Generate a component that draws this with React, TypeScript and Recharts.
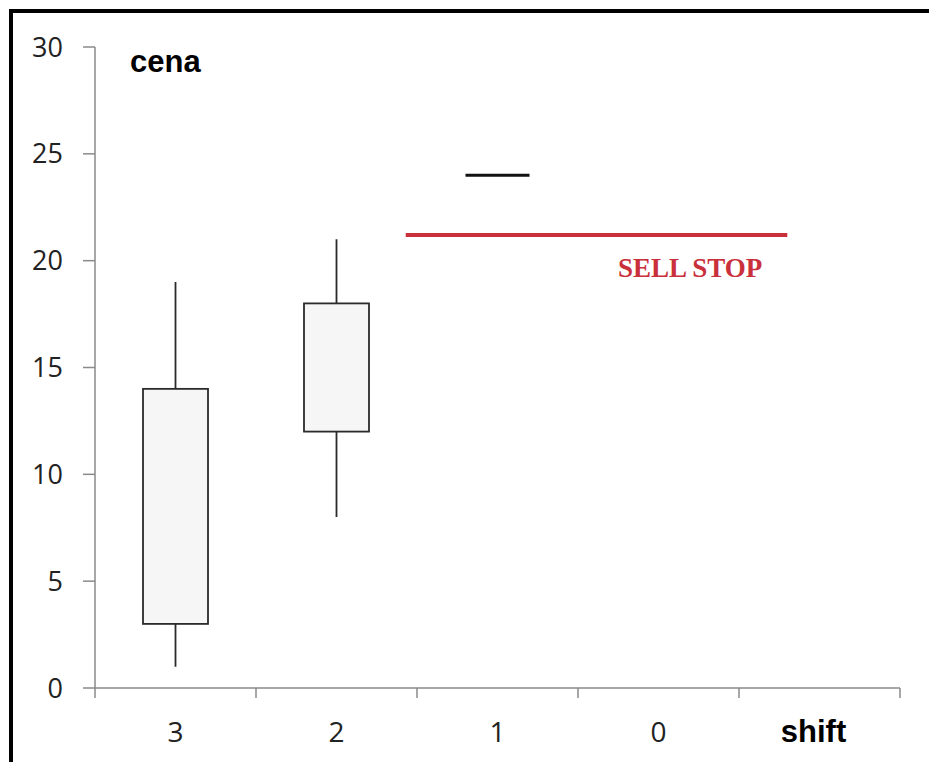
import React from "react";
import {
  Bar,
  ComposedChart,
  Line,
  ReferenceLine,
  XAxis,
  YAxis,
} from "recharts";

// bars counted back from the current one
const shifts = ["3", "2", "1", "0", "shift"];
const slotCenters = [0.5, 1.5, 2.5, 3.5, 4.5];
const opens = [3, 12, null, null, null];
const closes = [14, 18, null, null, null];
const lows = [1, 8, null, null, null];
const highs = [19, 21, null, null, null];
// black dash = price of the forming bar
const pending = [null, null, 24, null, null];

const yTicks = [0, 5, 10, 15, 20, 25, 30];
const slotEdges = [0, 1, 2, 3, 4, 5];

// sell stop level and where the red line starts / ends (in bar slots)
const sellStop = 21.2;
const sellStopFrom = 1.93;
const sellStopTo = 4.3;

const AXIS = "#8a8a8a";
const RED = "#c9303b";
const DIGITS = "'Open Sans', 'DejaVu Sans', sans-serif";
const SLOT_PX = 161; // plot width / 5 slots

const data = shifts.map((s, i) => ({
  shift: s,
  pos: slotCenters[i],
  open: opens[i],
  close: closes[i],
  range: lows[i] == null ? null : [lows[i], highs[i]],
  pending: pending[i],
}));

function Candle(props: any) {
  const { x, y, width, height, payload } = props;
  if (!payload || payload.open == null || !height) return null;
  const lo = payload.range[0];
  const hi = payload.range[1];
  const ppu = height / (hi - lo);
  const top = y + (hi - Math.max(payload.open, payload.close)) * ppu;
  const bottom = y + (hi - Math.min(payload.open, payload.close)) * ppu;
  const cx = x + width / 2;
  return (
    <g>
      <line x1={cx} x2={cx} y1={y} y2={y + height} stroke="#2b2b2b" strokeWidth={1.8} />
      <rect x={x} y={top} width={width} height={bottom - top} fill="#f6f6f6" stroke="#2b2b2b" strokeWidth={1.8} />
    </g>
  );
}

function Dash(props: any) {
  const { cx, cy, index } = props;
  if (cx == null || cy == null || props.value == null) return <g key={"d" + index} />;
  return <line key={"d" + index} x1={cx - 32} x2={cx + 32} y1={cy} y2={cy} stroke="#111" strokeWidth={3} />;
}

// ticks sit on slot edges; the label of each slot is drawn half a slot to the right
function XTick(props: any) {
  const { x, y, index } = props;
  const label = shifts[index];
  if (label == null) return <g />;
  const last = label === "shift";
  return (
    <text
      x={x + SLOT_PX / 2 + (last ? -6 : 0)}
      y={y + 20}
      textAnchor="middle"
      fill={last ? "#000" : "#222"}
      fontFamily={last ? "'Liberation Sans', Arial, sans-serif" : DIGITS}
      fontWeight={last ? 700 : 400}
      fontSize={last ? 31 : 28}
    >
      {label}
    </text>
  );
}

function SellStopLabel(props: any) {
  const vb = props.viewBox || {};
  return (
    <text
      x={vb.x + vb.width - 25}
      y={vb.y + 42}
      textAnchor="end"
      fill={RED}
      fontFamily="'Liberation Serif', 'Times New Roman', serif"
      fontWeight={700}
      fontSize={27}
    >
      SELL STOP
    </text>
  );
}

export default function App() {
  return (
    <div
      style={{
        position: "fixed",
        left: 9,
        top: 9,
        width: 916,
        height: 749,
        borderTop: "4px solid #000",
        borderLeft: "4px solid #000",
        background: "#fff",
      }}
    >
      <ComposedChart width={916} height={740} data={data} margin={{ top: 34, right: 29, left: 22, bottom: 15 }}>
        <XAxis
          dataKey="pos"
          type="number"
          domain={[0, 5]}
          ticks={slotEdges}
          allowDataOverflow
          interval={0}
          height={50}
          tickSize={10}
          tickMargin={24}
          axisLine={{ stroke: AXIS, strokeWidth: 1.5 }}
          tickLine={{ stroke: AXIS, strokeWidth: 1.5 }}
          tick={<XTick />}
        />
        <YAxis
          domain={[0, 30]}
          ticks={yTicks}
          width={60}
          tickSize={12}
          tickMargin={20}
          axisLine={{ stroke: AXIS, strokeWidth: 1.5 }}
          tickLine={{ stroke: AXIS, strokeWidth: 1.5 }}
          tick={{ fill: "#222", fontSize: 27, fontFamily: DIGITS }}
        />
        <Bar dataKey="range" barSize={65} shape={<Candle />} isAnimationActive={false} />
        <Line dataKey="pending" stroke="none" dot={<Dash />} activeDot={false} isAnimationActive={false} />
        <ReferenceLine
          segment={[
            { x: sellStopFrom, y: sellStop },
            { x: sellStopTo, y: sellStop },
          ]}
          stroke={RED}
          strokeWidth={4}
          ifOverflow="visible"
          label={<SellStopLabel />}
        />
      </ComposedChart>
      <svg width={916} height={740} style={{ position: "absolute", left: 0, top: 0, pointerEvents: "none" }}>
        <text x={117} y={59} fontFamily="'Liberation Sans', Arial, sans-serif" fontWeight={700} fontSize={31} fill="#000">
          cena
        </text>
      </svg>
    </div>
  );
}
